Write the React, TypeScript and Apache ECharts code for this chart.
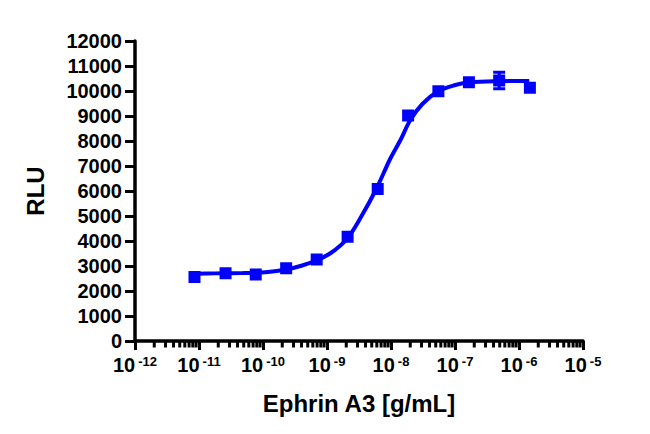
import React from 'react';
import * as echarts from 'echarts';

// measured points (concentration in g/mL, RLU)
const concentrations = [8.5e-12, 2.6e-11, 7.7e-11, 2.3e-10, 6.9e-10, 2.1e-9, 6.2e-9, 1.85e-8, 5.5e-8, 1.65e-7, 4.9e-7, 1.48e-6];
const rluValues = [2560, 2710, 2660, 2910, 3260, 4170, 6080, 9020, 9990, 10350, 10420, 10130];
const rluErrors = [0, 0, 0, 0, 0, 0, 0, 0, 0, 0, 330, 0];

// fitted curve (log10 of concentration, RLU)
const fitLogX = [-11.07, -10.76, -10.34, -9.92, -9.64, -9.4, -9.17, -8.94, -8.69, -8.46, -8.23, -8.01, -7.85, -7.7, -7.51, -7.27, -7.01, -6.78, -6.34, -5.84];
const fitY = [2690, 2705, 2715, 2760, 2860, 3010, 3220, 3520, 4080, 5000, 6080, 7300, 8050, 8830, 9480, 9980, 10230, 10340, 10390, 10400];

const decades = [-12, -11, -10, -9, -8, -7, -6, -5];
const minorMultipliers = [2, 3, 4, 5, 6, 7, 8, 9];

const BLUE = '#0000ff';
const FONT = 'Liberation Sans';

export default function App() {
  const chartRef = React.useRef<HTMLDivElement>(null);

  React.useEffect(() => {
    if (!chartRef.current) return;
    const chart = echarts.init(chartRef.current, undefined, { renderer: 'svg' });

    // minor ticks at 2..9 x 10^d
    const minorTicks: number[][] = [];
    decades.slice(0, -1).forEach((d) => {
      minorMultipliers.forEach((k) => minorTicks.push([d + Math.log10(k), 0]));
    });

    const points = concentrations.map((c, i) => [Math.log10(c), rluValues[i]]);
    const errorData = concentrations.map((c, i) => [Math.log10(c), rluValues[i], rluErrors[i]]);
    const fitData = fitLogX.map((x, i) => [x, fitY[i]]);

    const option: echarts.EChartsOption = {
      animation: false,
      backgroundColor: '#ffffff',
      grid: { left: 135, right: 67, top: 41, bottom: 93, containLabel: false },
      xAxis: {
        type: 'value',
        min: -12,
        max: -5,
        interval: 1,
        name: 'Ephrin A3 [g/mL]',
        nameLocation: 'middle',
        nameGap: 50,
        nameTextStyle: { fontFamily: FONT, fontWeight: 'bold', fontSize: 24, color: '#000' },
        axisLine: { lineStyle: { color: '#000', width: 3.5 } },
        axisTick: { show: true, length: 9, lineStyle: { color: '#000', width: 3 } },
        splitLine: { show: false },
        axisLabel: {
          margin: 14,
          formatter: (v: number) => `{b|10}{s|${v}}`,
          rich: {
            b: { fontFamily: FONT, fontWeight: 'bold', fontSize: 20, color: '#000', lineHeight: 20 },
            s: { fontFamily: FONT, fontWeight: 'bold', fontSize: 13, color: '#000', lineHeight: 12, verticalAlign: 'top', padding: [0, 0, 0, 3] },
          },
        },
      },
      yAxis: {
        type: 'value',
        min: 0,
        max: 12000,
        interval: 1000,
        name: 'RLU',
        nameLocation: 'middle',
        nameGap: 88,
        nameTextStyle: { fontFamily: FONT, fontWeight: 'bold', fontSize: 24, color: '#000' },
        axisLine: { show: true, lineStyle: { color: '#000', width: 3.5 } },
        axisTick: { show: true, length: 10, lineStyle: { color: '#000', width: 3 } },
        splitLine: { show: false },
        axisLabel: {
          margin: 13,
          fontFamily: FONT,
          fontWeight: 'bold',
          fontSize: 20,
          color: '#000',
          formatter: (v: number) => String(v),
        },
      },
      series: [
        {
          type: 'custom',
          data: minorTicks,
          clip: false,
          silent: true,
          z: 5,
          renderItem: (params: any, api: any) => {
            const p = api.coord([api.value(0), api.value(1)]);
            return {
              type: 'line',
              shape: { x1: p[0], y1: p[1], x2: p[0], y2: p[1] + 6.5 },
              style: { stroke: '#000', lineWidth: 3 },
            };
          },
        },
        {
          type: 'line',
          data: fitData,
          smooth: 0.35,
          symbol: 'none',
          lineStyle: { color: BLUE, width: 4 },
          z: 2,
        },
        {
          type: 'scatter',
          data: points,
          symbol: 'rect',
          symbolSize: 12,
          itemStyle: { color: BLUE, opacity: 1 },
          z: 3,
        },
        {
          type: 'custom',
          data: errorData,
          z: 4,
          renderItem: (params: any, api: any) => {
            const err = api.value(2);
            if (!err) return null;
            const x = api.value(0);
            const y = api.value(1);
            const top = api.coord([x, y + err]);
            const bot = api.coord([x, y - err]);
            const half = 6;
            const style = { stroke: BLUE, lineWidth: 3 };
            return {
              type: 'group',
              children: [
                { type: 'line', shape: { x1: top[0], y1: top[1], x2: bot[0], y2: bot[1] }, style },
                { type: 'line', shape: { x1: top[0] - half, y1: top[1], x2: top[0] + half, y2: top[1] }, style },
                { type: 'line', shape: { x1: bot[0] - half, y1: bot[1], x2: bot[0] + half, y2: bot[1] }, style },
              ],
            };
          },
        },
      ],
    };

    chart.setOption(option);
    return () => {
      chart.dispose();
    };
  }, []);

  return (
    <div
      ref={chartRef}
      style={{ position: 'absolute', left: 0, top: 0, width: 650, height: 434, background: '#fff' }}
    />
  );
}
